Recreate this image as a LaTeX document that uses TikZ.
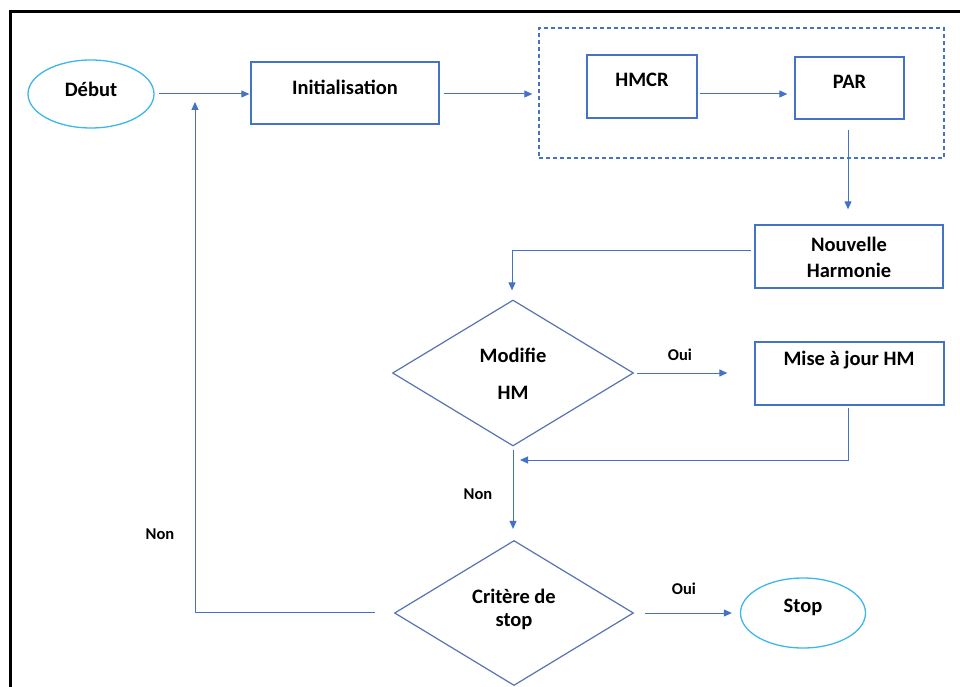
\documentclass[tikz,border=0pt]{standalone}
\usepackage{fontspec}
\setmainfont{Carlito}
\usetikzlibrary{shapes.geometric,arrows.meta}
\definecolor{bl}{HTML}{4472C4}
\definecolor{dm}{HTML}{5574B0}
\definecolor{cy}{HTML}{3DB7EA}
\begin{document}
\begin{tikzpicture}[x=1pt,y=1pt,
  box/.style={draw=bl, line width=1.3pt, inner sep=0pt},
  dia/.style={draw=dm, line width=1.2pt, diamond, inner sep=0pt, aspect=1.65},
  ell/.style={draw=cy, line width=1.3pt, ellipse, inner sep=0pt},
  txt/.style={font=\fontsize{20.5}{24}\selectfont\bfseries, inner sep=0pt, align=center},
  lab/.style={font=\fontsize{16.5}{19}\selectfont\bfseries, inner sep=0pt},
  arr/.style={draw=bl, line width=1pt, -{Triangle[length=8pt,width=7pt]}}]
\useasboundingbox (0,0) rectangle (960,686);
% frame
\draw[line width=3pt] (10,-3) -- (10,674) -- (963,674);
% shapes
\node[ell, minimum width=126, minimum height=68] (debut) at (91,592) {};
\node[box, minimum width=188, minimum height=62] (init) at (345,593) {};
\node[box, dashed, dash pattern=on 4pt off 3pt, minimum width=405, minimum height=130] (grp) at (741.5,593) {};
\node[box, minimum width=110, minimum height=63] (hmcr) at (642,599.5) {};
\node[box, minimum width=109, minimum height=62] (par) at (849.5,598) {};
\node[box, minimum width=188, minimum height=63] (nh) at (849,429.5) {};
\node[dia, minimum width=241, minimum height=146] (modif) at (513,313) {};
\node[box, minimum width=189, minimum height=63] (maj) at (849.5,312.5) {};
\node[dia, minimum width=239, minimum height=145] (crit) at (514,73) {};
\node[ell, minimum width=125, minimum height=70] (stop) at (803,73) {};
% texts
\node[txt] (tdebut) at (91,597) {Début};
\node[txt] (tinit) at (345,599) {Initialisation};
\node[txt] (thmcr) at (642,606) {HMCR};
\node[txt] (tpar) at (849.5,604) {PAR};
\node[txt] (tnh1) at (849,442) {Nouvelle};
\node[txt] (tnh2) at (849,416) {Harmonie};
\node[txt] (tmod1) at (513,331) {Modifie};
\node[txt] (tmod2) at (513,293) {HM};
\node[txt] (tmaj) at (849,326) {Mise à jour HM};
\node[txt] (tcr1) at (514,90) {Critère de};
\node[txt] (tcr2) at (514,64) {stop};
\node[txt] (tstop) at (803,79) {Stop};
\node[lab] (oui1) at (680,331) {Oui};
\node[lab] (oui2) at (684,97) {Oui};
\node[lab] (non1) at (478,192) {Non};
\node[lab] (non2) at (160,152) {Non};
% helper coordinates
\coordinate (mj) at (520,226);
\coordinate (lp) at (195,584);
% connectors
\draw[arr, shorten <=4pt, shorten >=1pt] (debut.east) -- (debut.east -| init.west);
\draw[arr, shorten <=4pt, shorten >=6pt] ([yshift=-1pt]init.east) -- ([yshift=-1pt]init.east -| grp.west);
\draw[arr, shorten <=2pt, shorten >=7pt] ([yshift=-7.5pt]hmcr.east) -- ([yshift=-7.5pt]hmcr.east -| par.west);
\draw[arr, shorten <=10pt, shorten >=15pt] ([xshift=-1.5pt]par.south) -- ([xshift=-1.5pt]par.south |- nh.north);
\draw[arr, shorten <=3pt, shorten >=9pt] ([yshift=5.5pt]nh.west) -| ([xshift=-1pt]modif.north);
\draw[arr, shorten <=3pt, shorten >=27pt] (modif.east) -- (modif.east -| maj.west);
\draw[arr, shorten <=2pt] ([xshift=-1.5pt]maj.south) |- (mj);
\draw[arr, shorten <=3pt, shorten >=11pt] (modif.south) -- (modif.south |- crit.north);
\draw[arr, shorten <=19pt] ([yshift=1pt]crit.west) -| (lp);
\draw[arr, shorten <=11pt, shorten >=8pt] (crit.east) -- (crit.east -| stop.west);
\end{tikzpicture}
\end{document}
